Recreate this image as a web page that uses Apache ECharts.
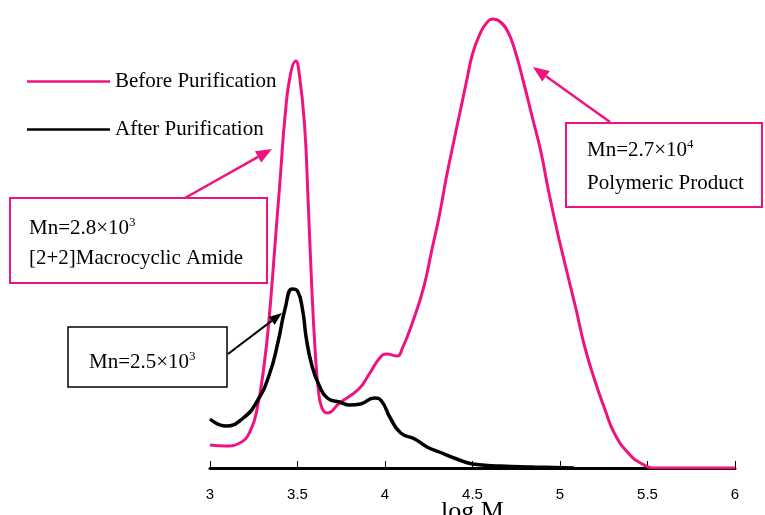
<!DOCTYPE html>
<html>
<head>
<meta charset="utf-8">
<script src="https://cdn.jsdelivr.net/npm/echarts@6/dist/echarts.min.js"></script>
<style>
  html, body { margin: 0; padding: 0; background: #fff; }
  #chart { width: 765px; height: 515px; }
</style>
</head>
<body>
<div id="chart"></div>
<script>
// GPC traces, log M vs detector signal (arbitrary units)
const seriesNames = ['Before Purification', 'After Purification']

const beforeLogM = [3.0, 3.09, 3.17, 3.23, 3.27, 3.31, 3.34, 3.37, 3.40, 3.43, 3.46, 3.49, 3.51, 3.54, 3.56, 3.58, 3.60, 3.62, 3.64, 3.67,
  3.74, 3.85, 3.91, 3.97, 4.01, 4.07, 4.10, 4.16, 4.22, 4.27, 4.31, 4.35, 4.39, 4.43, 4.47, 4.50, 4.54, 4.58, 4.62, 4.66, 4.70, 4.74,
  4.79, 4.84, 4.89, 4.93, 4.98, 5.03, 5.09, 5.14, 5.20, 5.26, 5.31, 5.39, 5.47, 5.55, 6.0]
const beforeSignal = [23, 22, 25, 37, 60, 104, 154, 220, 287, 354, 394, 407, 394, 344, 270, 187, 120, 77, 60, 55,
  65, 79, 94, 110, 114, 112, 120, 147, 180, 220, 252, 290, 324, 357, 390, 414, 433, 445, 449, 446, 437, 419,
  387, 352, 317, 281, 240, 203, 160, 122, 87, 57, 35, 15, 4, 0, 0]

const afterLogM = [3.0, 3.09, 3.19, 3.27, 3.34, 3.39, 3.43, 3.47, 3.50, 3.53, 3.55, 3.58, 3.62, 3.67, 3.74, 3.80, 3.86, 3.94, 3.98,
  4.03, 4.09, 4.17, 4.24, 4.31, 4.41, 4.50, 4.66, 4.85, 5.08]
const afterSignal = [49, 42, 50, 67, 94, 127, 160, 179, 177, 157, 130, 104, 84, 70, 66, 63, 64, 70, 67,
  50, 35, 29, 21, 16, 9, 4, 2, 1, 0]

const pink = '#EF1380'
const serif = '"Liberation Serif", "Times New Roman", serif'

const chart = echarts.init(document.getElementById('chart'))

function arrow(x1, y1, x2, y2, color, width, headLen, headW) {
  const a = Math.atan2(y2 - y1, x2 - x1)
  const bx = x2 - headLen * Math.cos(a)
  const by = y2 - headLen * Math.sin(a)
  const nx = -Math.sin(a) * headW / 2
  const ny = Math.cos(a) * headW / 2
  return [
    { type: 'line', shape: { x1: x1, y1: y1, x2: bx, y2: by }, style: { stroke: color, lineWidth: width }, z: 10 },
    { type: 'polygon', shape: { points: [[x2, y2], [bx + nx, by + ny], [bx - nx, by - ny]] }, style: { fill: color }, z: 10 }
  ]
}

function box(x, y, w, h, color, lw) {
  return { type: 'rect', shape: { x: x, y: y, width: w, height: h }, style: { fill: '#fff', stroke: color, lineWidth: lw }, z: 5 }
}

function label(x, y, text) {
  return {
    type: 'text', x: x, y: y, z: 11,
    style: {
      text: text,
      font: '21px ' + serif,
      fill: '#000',
      verticalAlign: 'middle',
      rich: {
        sup: { fontSize: 13, fontFamily: serif, verticalAlign: 'top', padding: [0, 0, 10, 0] }
      }
    }
  }
}

const option = {
  animation: false,
  backgroundColor: '#fff',
  grid: { left: 210, right: 30, top: 18, bottom: 47, outerBoundsMode: 'none', containLabel: false },
  legend: {
    orient: 'vertical',
    left: 27,
    top: 71,
    padding: 0,
    icon: 'rect',
    itemWidth: 83,
    itemHeight: 2.5,
    itemGap: 27,
    data: seriesNames,
    textStyle: { fontFamily: serif, fontSize: 21, color: '#000', lineHeight: 21 }
  },
  xAxis: {
    type: 'value',
    min: 3,
    max: 6,
    interval: 0.5,
    name: 'log M',
    nameLocation: 'middle',
    nameGap: 31,
    nameMoveOverlap: false,
    nameTextStyle: { fontFamily: serif, fontSize: 26, color: '#000' },
    axisLine: { onZero: false, lineStyle: { color: '#000', width: 3 } },
    axisTick: { inside: true, length: 7, lineStyle: { color: '#000', width: 1 } },
    axisLabel: { margin: 19, fontFamily: '"Liberation Sans", Arial, sans-serif', fontSize: 15, color: '#000' },
    splitLine: { show: false }
  },
  yAxis: {
    type: 'value',
    min: 0,
    max: 450,
    show: false
  },
  series: [
    {
      name: seriesNames[0],
      type: 'line',
      data: beforeLogM.map((x, i) => [x, beforeSignal[i]]),
      smooth: 0.5,
      symbol: 'none',
      lineStyle: { color: pink, width: 3 },
      itemStyle: { color: pink },
      z: 3
    },
    {
      name: seriesNames[1],
      type: 'line',
      data: afterLogM.map((x, i) => [x, afterSignal[i]]),
      smooth: 0.5,
      symbol: 'none',
      lineStyle: { color: '#000', width: 3.5 },
      itemStyle: { color: '#000' },
      z: 4
    }
  ],
  graphic: [
    box(10, 198, 257, 85, pink, 2),
    label(29, 228, 'Mn=2.8×10{sup|3}'),
    label(29, 258, '[2+2]Macrocyclic Amide'),
    ...arrow(185, 198, 272, 149, pink, 2.5, 16, 13),

    box(566, 123, 196, 84, pink, 2),
    label(587, 150, 'Mn=2.7×10{sup|4}'),
    label(587, 183, 'Polymeric Product'),
    ...arrow(610, 122, 533, 67, pink, 2.5, 16, 13),

    box(68, 327, 159, 60, '#000', 1.5),
    label(89, 362, 'Mn=2.5×10{sup|3}'),
    ...arrow(228, 354, 282, 313, '#000', 2, 13, 10)
  ]
}

chart.setOption(option)
window.addEventListener('resize', () => chart.resize())
</script>
</body>
</html>
